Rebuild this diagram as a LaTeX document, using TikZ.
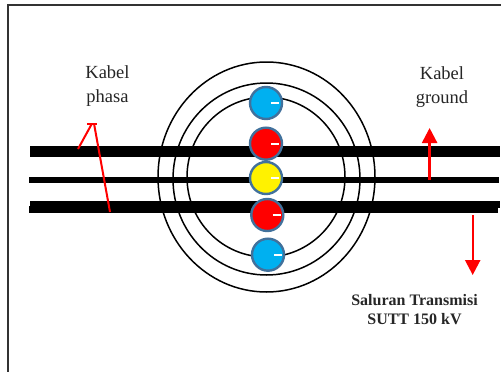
\documentclass[tikz,border=0pt]{standalone}
\usepackage{fontspec}
\setmainfont{Liberation Serif}
\usetikzlibrary{arrows.meta}
\definecolor{ballblue}{HTML}{00B0F0}
\definecolor{ballrim}{HTML}{41719C}
\tikzset{
  x=1pt,y=-1pt,
  frameline/.style={draw=black!80,line width=1.5pt},
  ring/.style={draw=black,line width=1.5pt},
  bar/.style={fill=black,draw=none},
  ball/.style={circle,draw=ballrim,line width=2.4pt,minimum size=32pt,inner sep=0pt},
  minus/.style={draw=white,line width=2pt},
  redline/.style={draw=red,line width=2pt},
  redarrow/.style={draw=red,line width=2.4pt,-{Triangle[length=15pt,width=15pt]}},
  lab/.style={align=center,font=\fontsize{18.5}{24}\selectfont,text=black!85,inner sep=0pt},
  boldlab/.style={align=center,font=\fontsize{16}{19}\selectfont\bfseries,text=black!85,inner sep=0pt},
}
\begin{document}
\begin{tikzpicture}
\useasboundingbox (0,0) rectangle (501,372);
\fill[white] (0,0) rectangle (501,372);
\draw[frameline] (8,372) -- (8,5) -- (501,5);
% bars
\fill[bar] (30,146) rectangle (500,157);
\fill[bar] (29,177) rectangle (499,183);
\fill[bar] (30,201) rectangle (500,208);
\fill[bar] (28.5,206) rectangle (498,213);
% rings
\draw[ring] (266.5,177) ellipse [x radius=108.5,y radius=115];
\draw[ring] (266.5,179) ellipse [x radius=93.5,y radius=96];
\draw[ring] (266,177) ellipse [x radius=79,y radius=80];
% balls
\node[ball,fill=ballblue] (b1) at (266,103) {};
\node[ball,fill=red] (b2) at (266,143.7) {};
\node[ball,fill=yellow] (b3) at (266,178) {};
\node[ball,fill=red] (b4) at (267.3,215) {};
\node[ball,fill=ballblue] (b5) at (268,254.7) {};
\draw[minus] (271,103) -- (279.3,103);
\draw[minus] (271,143.7) -- (279.3,143.7);
\draw[minus] (271,178) -- (279.3,178);
\draw[minus] (272.6,215) -- (280.6,215);
\draw[minus] (274,254.7) -- (282,254.7);
% labels
\node[lab] (phasa) at (107.5,86.5) {Kabel\\phasa};
\node[lab] (ground) at (442,87.5) {Kabel\\ground};
\node[boldlab] (sutt) at (414.5,309.5) {Saluran Transmisi\\SUTT 150 kV};
% red connectors
\coordinate (pa) at (78,149);
\coordinate (pt) at (92,123.5);
\coordinate (pb) at (110,212);
\coordinate (pt2) at (94,123.5);
\coordinate (ga) at (429.6,180);
\coordinate (gb) at (429.6,128);
\coordinate (da) at (472.7,215);
\coordinate (db) at (472.7,275);
\draw[redline] (pa) -- (pt);
\draw[redline] (pb) -- (pt2);
\draw[redline] (87,123.5) -- (97,123.5);
\draw[redarrow] (ga) -- (gb);
\draw[redarrow] (da) -- (db);
\end{tikzpicture}
\end{document}
